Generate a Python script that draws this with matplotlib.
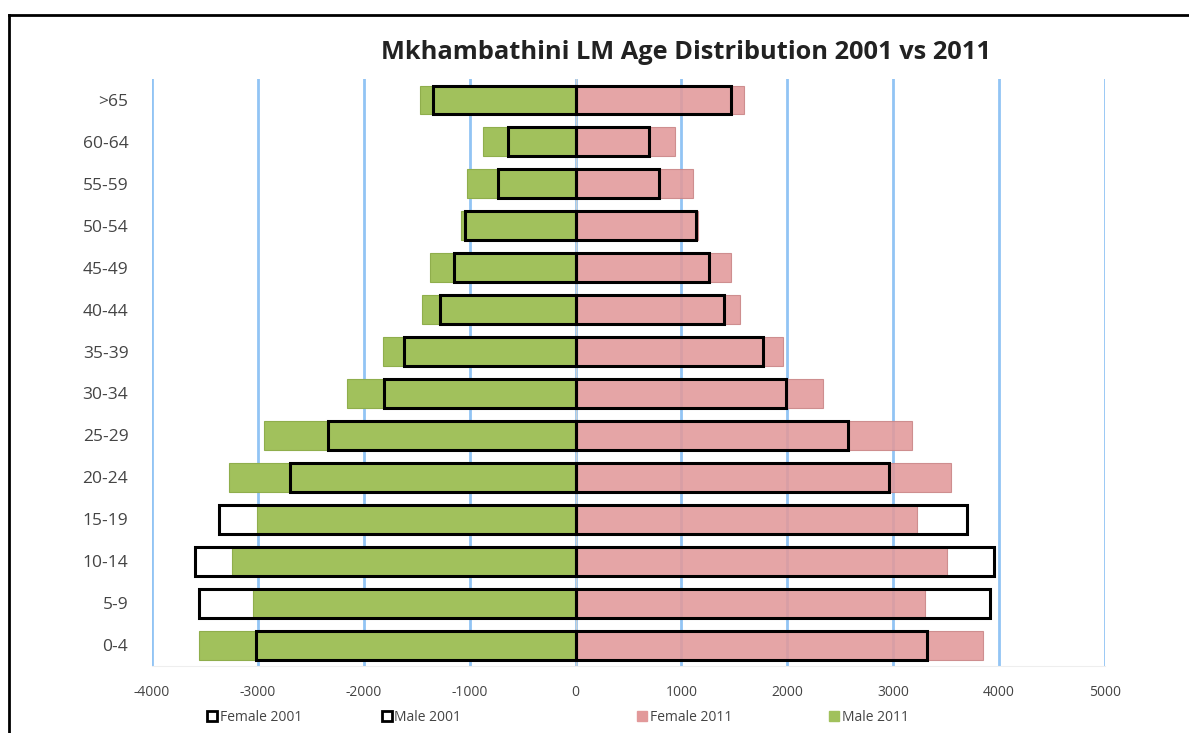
import matplotlib
matplotlib.use('Agg')
import matplotlib.pyplot as plt
from matplotlib.lines import Line2D
from matplotlib.patches import Patch
import numpy as np

# age groups, bottom to top
ages = ['0-4', '5-9', '10-14', '15-19', '20-24', '25-29', '30-34', '35-39',
        '40-44', '45-49', '50-54', '55-59', '60-64', '>65']
male_2011 = [3557, 3047, 3245, 3010, 3277, 2943, 2160, 1820, 1451, 1372, 1086, 1027, 869, 1470]
male_2001 = [3016, 3560, 3598, 3368, 2694, 2339, 1804, 1615, 1278, 1146, 1048, 733, 633, 1347]
female_2011 = [3847, 3302, 3507, 3225, 3548, 3179, 2335, 1958, 1558, 1470, 1160, 1108, 935, 1587]
female_2001 = [3315, 3910, 3950, 3695, 2965, 2572, 1990, 1775, 1398, 1259, 1140, 793, 692, 1470]
xticks = [-4000, -3000, -2000, -1000, 0, 1000, 2000, 3000, 4000, 5000]

plt.rcParams['font.family'] = ['Open Sans', 'DejaVu Sans']

green = '#A1C15C'
pink = '#E2999A'
grid_c = '#92C4F4'

fig = plt.figure(figsize=(11.89, 7.33), dpi=100)
ax = fig.add_axes([0.1278, 0.0914, 0.8015, 0.8008])

y = np.arange(len(ages))
h = 0.69

for xv in xticks:
    ax.axvline(xv, color=grid_c, lw=2, zorder=1)
ax.axvline(0, color='#d0d0d0', lw=1, zorder=1)

ax.barh(y, -np.array(male_2011), height=h, color=green, edgecolor='#8fae4c', lw=0.8, zorder=2)
ax.barh(y, female_2011, height=h, color=pink, alpha=0.88, edgecolor='#c98586', lw=0.8, zorder=2)
ax.barh(y, -np.array(male_2001), height=h, facecolor='none', edgecolor='black', lw=2.2, zorder=4)
ax.barh(y, female_2001, height=h, facecolor='none', edgecolor='black', lw=2.2, zorder=4)

ax.set_xlim(-4000, 5000)
ax.set_ylim(-0.5, len(ages) - 0.5)
ax.set_yticks(y)
ax.set_yticklabels(ages, fontsize=12.5, color='#444444')
ax.set_xticks(xticks)
ax.set_xticklabels([str(v) for v in xticks], fontsize=10, color='#444444')
ax.tick_params(axis='y', length=0, pad=17)
ax.tick_params(axis='x', length=0, pad=14)
for s in ['top', 'right', 'left']:
    ax.spines[s].set_visible(False)
ax.spines['bottom'].set_color('#eeeeee')

fig.text(0.577, 0.929, 'Mkhambathini LM Age Distribution 2001 vs 2011',
         ha='center', va='center', fontsize=18.3, fontweight='bold', color='#222222')

# legend entries placed one by one, as in the source
handles = [Patch(facecolor='white', edgecolor='black', lw=2),
           Patch(facecolor='white', edgecolor='black', lw=2),
           Patch(facecolor=pink, edgecolor=pink),
           Patch(facecolor=green, edgecolor=green)]
labels = ['Female 2001', 'Male 2001', 'Female 2011', 'Male 2011']
leg_x = [207, 382, 637, 829]
for hd, lb, lx in zip(handles, labels, leg_x):
    lg = fig.legend([hd], [lb], loc='center left', bbox_to_anchor=(lx / 1189, 0.021),
                    frameon=False, fontsize=10, handlelength=0.7, handleheight=0.7,
                    handletextpad=0.2, borderpad=0, borderaxespad=0, labelcolor='#444444')

# outer frame (left and top edges)
fig.add_artist(Line2D([9 / 1189, 9 / 1189], [0, 1 - 15 / 733], color='black', lw=2))
fig.add_artist(Line2D([9 / 1189, 1], [1 - 15 / 733, 1 - 15 / 733], color='black', lw=2))

fig.savefig('out.png', dpi=100)
